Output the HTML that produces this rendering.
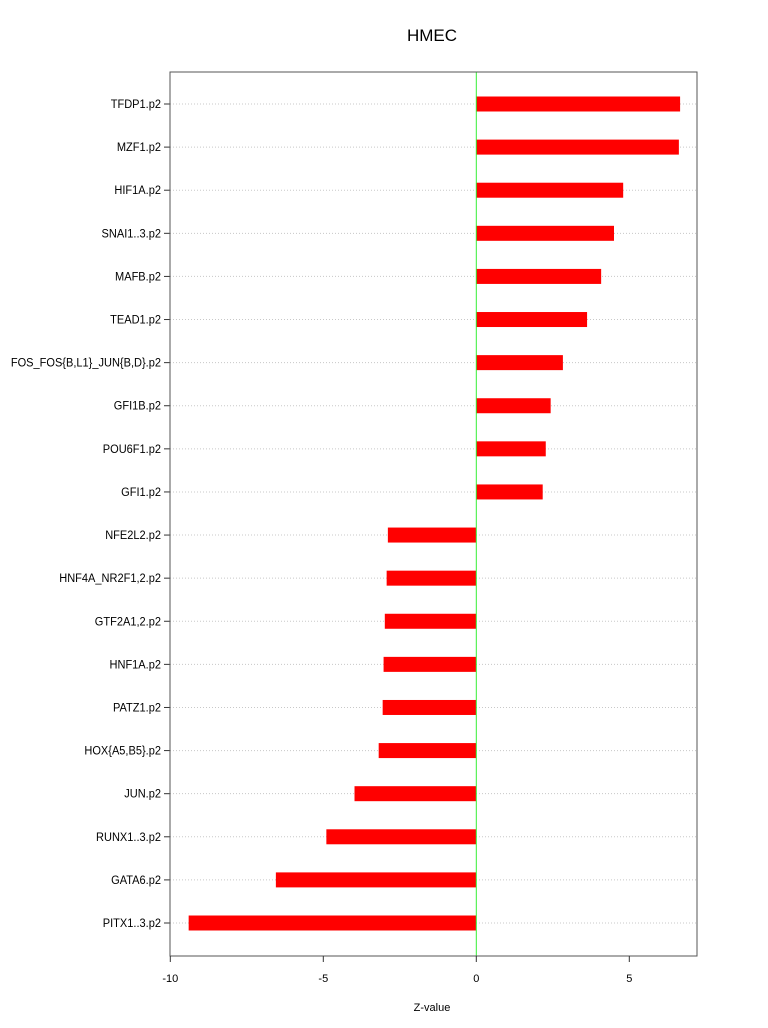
<!DOCTYPE html>
<html><head><meta charset="utf-8"><style>
body{margin:0;background:#fff;}
svg{display:block;font-family:"Liberation Sans",sans-serif;}
</style></head><body>
<svg id="chart" width="768" height="1028">
<text x="432" y="41" font-size="17" text-anchor="middle">HMEC</text>
<text x="432" y="1011" font-size="11" text-anchor="middle">Z-value</text>
<g id="plot"></g>
</svg>
<script>
const categories=["TFDP1.p2","MZF1.p2","HIF1A.p2","SNAI1..3.p2","MAFB.p2","TEAD1.p2","FOS_FOS{B,L1}_JUN{B,D}.p2","GFI1B.p2","POU6F1.p2","GFI1.p2","NFE2L2.p2","HNF4A_NR2F1,2.p2","GTF2A1,2.p2","HNF1A.p2","PATZ1.p2","HOX{A5,B5}.p2","JUN.p2","RUNX1..3.p2","GATA6.p2","PITX1..3.p2"];
const values=[6.66,6.62,4.8,4.5,4.08,3.62,2.83,2.43,2.27,2.17,-2.89,-2.93,-2.99,-3.03,-3.06,-3.19,-3.98,-4.9,-6.55,-9.4];
const xTicks=[-10,-5,0,5];
const NS="http://www.w3.org/2000/svg";
const g=document.getElementById('plot');
const L=170,R=697,T=72,B=956;
const x=v=>476.3+v*30.6;
const y=i=>104+i*(923-104)/(categories.length-1);
function mk(t,a){const e=document.createElementNS(NS,t);for(const k in a)e.setAttribute(k,a[k]);g.appendChild(e);return e;}
categories.forEach((c,i)=>{
 let e=mk('line',{x1:L,x2:R,y1:y(i),y2:y(i),stroke:'#c8c8c8','stroke-dasharray':'1,2'});
 
 
 e=mk('line',{x1:L-6,x2:L,y1:y(i),y2:y(i),stroke:'#333'});
 
 
 e=mk('text',{x:L-9,y:y(i)+4,'font-size':'11','text-anchor':'end',transform:'scale(1,1)'});
 e.setAttribute('textLength',0);
 e.removeAttribute('textLength');
 e.setAttribute('style','font-size:12px;');
 e.setAttribute('transform',`translate(${L-9},${y(i)+4}) scale(0.92,1) translate(${-(L-9)},${-(y(i)+4)})`);
 e.textContent=c;
 
 
});
values.forEach((v,i)=>{
 const x0=Math.min(x(0),x(v)),w=Math.abs(x(v)-x(0));
 const e=mk('rect',{x:x0,y:y(i)-7.5,width:w,height:15,fill:'#ff0000'});
 
 
});
let z=mk('line',{x1:x(0),x2:x(0),y1:T,y2:B,stroke:'#33ee33'});


let bx=mk('rect',{x:L,y:T,width:R-L,height:B-T,fill:'none',stroke:'#555'});


xTicks.forEach(t=>{
 let e=mk('line',{x1:x(t),x2:x(t),y1:B,y2:B+6,stroke:'#333'});
 
 
 e=mk('text',{x:x(t),y:B+26,'font-size':'11','text-anchor':'middle'});
 e.textContent=t;
 
 
});
</script>
</body></html>
